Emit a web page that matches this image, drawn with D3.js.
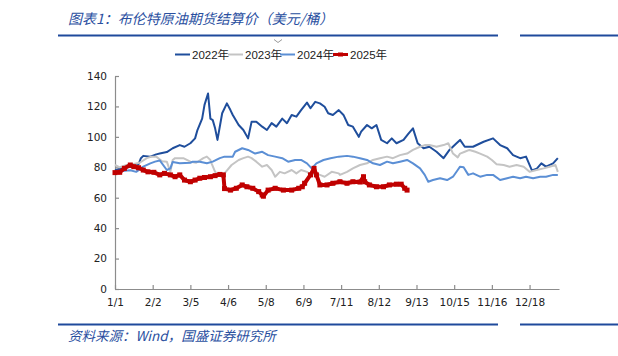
<!DOCTYPE html>
<html><head><meta charset="utf-8">
<script src="https://cdn.jsdelivr.net/npm/d3@7/dist/d3.min.js"></script>
<style>
html,body{margin:0;padding:0;background:#fff;}
svg{display:block;}
</style></head>
<body>
<svg id="chart" width="618" height="356"></svg>
<script>
// ---- data ----
const titleText = "图表1：布伦特原油期货结算价（美元/桶）";
const sourceText = "资料来源：Wind，国盛证券研究所";
const seriesNames = ["2022年", "2023年", "2024年", "2025年"];
const xTickLabels = ["1/1","2/2","3/5","4/6","5/8","6/9","7/11","8/12","9/13","10/15","11/16","12/18"];
const xTickStep = 32;
const yTicks = [0,20,40,60,80,100,120,140];

// [day index, price]
const s2022 = [[0,78],[5,79],[10,80.5],[15,80],[20,82],[22,86],[24,87.5],[30,87],[35,88.5],[38,89],[44,90],[49,92.5],[55,94.6],[59,93.5],[64,95.8],[68,99],[70,104.5],[74,112],[76,121],[79,128.5],[81,112],[83,111],[85,105.6],[87,98],[91,115.5],[95,122],[98,117.6],[100,114.4],[105,107.8],[109,104.5],[113,99],[116,110],[120,110],[125,106.7],[129,104.5],[133,109],[137,106.7],[142,112],[146,109],[150,114.4],[154,113.3],[158,117.6],[163,122.5],[166,118.8],[170,123],[174,122],[178,119.8],[181,115.5],[185,114.4],[190,117.6],[194,114.4],[198,107.8],[202,106.7],[207,100],[209,103.4],[214,107.8],[218,105.6],[222,107.8],[226,98],[231,95.8],[235,99],[239,95.8],[245,98],[249,102],[253,105.6],[257,95.8],[262,92.5],[267,93.5],[273,90.2],[279,86],[284,91.4],[290,95.8],[293,98],[297,93.5],[304,93.5],[313,96.8],[321,99],[327,94.6],[333,92.5],[338,88],[344,86],[349,87],[354,78],[358,79],[362,82.6],[366,80.4],[372,82.6],[376,86]];
const s2023 = [[0,81.5],[4,80],[10,81.5],[15,82],[21,83],[27,86],[31,87],[35,87],[40,84],[44,83.7],[47,77],[49,84.8],[51,86],[58,86],[64,83.7],[69,83],[75,86],[78,87],[81,84.8],[82,82.6],[85,77],[88,75],[93,76],[99,81.5],[105,84.8],[109,86],[113,87],[116,86],[120,83.7],[125,80.4],[129,81.5],[133,78.2],[136,73.8],[140,77],[144,76],[150,78.2],[154,76],[158,78.2],[163,77],[166,75],[170,76],[174,75],[178,73.8],[184,77],[190,76],[191,75],[197,77],[202,79.3],[208,81.5],[214,82.6],[219,84.8],[225,86],[231,87],[236,86],[242,88],[248,89],[253,91.4],[259,93.5],[263,94.6],[267,94.6],[273,93.5],[279,94.6],[283,95.8],[287,89],[291,86.5],[293,89],[297,90.2],[301,91.4],[306,90.2],[310,89],[316,87],[320,84.8],[324,82],[330,81.5],[335,80.4],[341,81.5],[347,80.4],[352,77],[358,78.2],[364,79.3],[369,80.4],[374,81.5],[376,77]];
const s2024 = [[0,77],[6,77.5],[13,78],[18,77],[24,80.4],[30,82.6],[34,83.7],[38,84.5],[44,78.2],[47,79.3],[49,83.5],[55,82.6],[64,83],[66,83.7],[72,83.7],[78,82.6],[83,83.7],[89,86],[93,87],[100,87],[102,90.2],[108,92.5],[113,91.4],[119,89],[125,90.2],[130,88],[136,87],[142,86],[147,83.7],[153,84.8],[158,84.8],[163,82.6],[167,79.3],[171,82.6],[177,84.8],[183,86],[190,87],[197,87.5],[202,87],[208,86],[214,84.8],[219,82.6],[225,81.5],[231,83.7],[236,82.6],[242,83.7],[248,84.8],[253,82.6],[259,79.3],[263,75],[266,70.5],[270,71.6],[276,72.8],[282,71.6],[287,73.8],[291,78.2],[293,80.4],[296,80],[300,75],[304,76],[310,73.8],[316,75],[321,75],[327,71.6],[333,72.8],[338,73.8],[344,72.8],[349,73.8],[355,72.8],[361,73.8],[366,73.8],[372,75],[376,75]];
const s2025 = [[0,76.5],[4,76.7],[8,79.3],[13,81.5],[16,80.4],[20,79.7],[24,78.2],[28,77],[33,76.7],[38,75],[42,76],[47,75],[51,73.8],[55,75],[59,71.6],[64,70.5],[68,71.6],[72,72.8],[76,73.3],[81,73.8],[85,74.5],[89,75.3],[92,75],[93,66],[98,65],[103,66.2],[108,68.4],[112,67.2],[117,66.2],[122,64],[125,61.8],[126,61],[130,65],[136,66.2],[143,65],[150,65],[156,66.2],[159,67.2],[161,69.5],[166,75],[169,79.3],[171,75],[174,68.4],[180,68.4],[185,69.5],[191,70.5],[197,69.5],[202,70.5],[208,70.3],[211,73.8],[212,70.5],[216,68.4],[222,67.2],[228,67.2],[233,68.4],[239,68.9],[243,68.9],[246,66.2],[248,65]];

const colors = ["#1f4e9c", "#c4c4c4", "#5b8fd5", "#c00000"];
const allSeries = [s2022, s2023, s2024, s2025];

// ---- drawing ----
const svg = d3.select("#chart");
const blue = "#1f4a9c";

svg.append("text").attr("x", 68).attr("y", 24)
  .attr("font-family", "'Noto Sans CJK SC', sans-serif").attr("font-size", 14)
  .attr("font-style", "italic").attr("fill", "#2a4f9f").text(titleText);

[[58,498],[520,618]].forEach(([a,b]) => {
  svg.append("line").attr("x1",a).attr("x2",b).attr("y1",35.5).attr("y2",35.5)
    .attr("stroke",blue).attr("stroke-width",2);
  svg.append("line").attr("x1",a).attr("x2",b).attr("y1",324.5).attr("y2",324.5)
    .attr("stroke",blue).attr("stroke-width",2);
});
svg.append("path").attr("d","M274,39.5 L278,42.5 L282,39.5").attr("fill","none")
  .attr("stroke","#9a9a9a").attr("stroke-width",1);

svg.append("text").attr("x", 68).attr("y", 341)
  .attr("font-family", "'Noto Sans CJK SC', sans-serif").attr("font-size", 13.5)
  .attr("font-style", "italic").attr("fill", "#2a4f9f").text(sourceText);

const x = d3.scaleLinear().domain([0, 377]).range([115, 559]);
const y = d3.scaleLinear().domain([0, 140]).range([289, 76]);

const xAxis = d3.axisBottom(x)
  .tickValues(xTickLabels.map((d,i) => i * xTickStep))
  .tickFormat((d,i) => xTickLabels[i])
  .tickSizeInner(-4).tickSizeOuter(0).tickPadding(10);
const gx = svg.append("g").attr("transform","translate(0,289)").call(xAxis);

const yAxis = d3.axisLeft(y).tickValues(yTicks)
  .tickSizeInner(-4).tickSizeOuter(0).tickPadding(8);
const gy = svg.append("g").attr("transform","translate(115,0)").call(yAxis);

[gx, gy].forEach(g => {
  g.select(".domain").attr("stroke","#8c8c8c").attr("stroke-width",1.2);
  g.selectAll(".tick line").attr("stroke","#8c8c8c").attr("stroke-width",1.2);
  g.selectAll("text").attr("font-family","'DejaVu Sans', sans-serif")
    .attr("font-size",10.5).attr("fill","#222");
});

const line = d3.line().x(d => x(d[0])).y(d => y(d[1]));
allSeries.forEach((s, i) => {
  svg.append("path").datum(s).attr("d", line).attr("fill","none")
    .attr("stroke", colors[i]).attr("stroke-width", i === 3 ? 4 : 2)
    .attr("stroke-linejoin","round");
});
svg.append("g").selectAll("rect").data(s2025).join("rect")
  .attr("x", d => x(d[0]) - 2.5).attr("y", d => y(d[1]) - 2.5)
  .attr("width", 5).attr("height", 5).attr("fill", colors[3]);

// legend
const legendX = [175, 228, 280, 333];
const lg = svg.append("g");
seriesNames.forEach((n, i) => {
  const lx = legendX[i];
  lg.append("line").attr("x1", lx).attr("x2", lx + 15).attr("y1", 54.5).attr("y2", 54.5)
    .attr("stroke", colors[i]).attr("stroke-width", i === 3 ? 3 : 2);
  if (i === 3) lg.append("rect").attr("x", lx + 5).attr("y", 52.5).attr("width", 5).attr("height", 4).attr("fill", colors[3]);
  lg.append("text").attr("x", lx + 17).attr("y", 58.5)
    .attr("font-family","'Liberation Sans', 'Noto Sans CJK SC', sans-serif")
    .attr("font-size", 11.5).attr("fill", "#222").text(n);
});
</script>
</body></html>
